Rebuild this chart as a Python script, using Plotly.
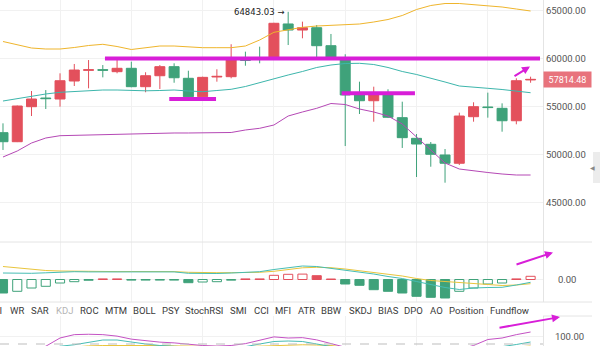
import plotly.graph_objects as go

# ---------------- data ----------------
opens = [52280, 51340, 54980, 55880, 55780, 57650, 58760, 58830, 58620, 58970,
         57060, 58200, 59140, 57930, 56020, 58070, 58100, 59870, 59960, 59910,
         63580, 62950, 63190, 61320, 59830, 56200, 55600, 56200, 53840, 51690,
         51070, 49960, 49100, 53940, 54950, 54810, 53520, 57760]
highs = [53250, 55100, 56610, 56710, 58450, 59420, 59830, 59310, 60110, 59660,
         58560, 59310, 59490, 58720, 58100, 58870, 61470, 60700, 61220, 63700,
         64843.03, 63820, 63470, 62540, 60430, 57580, 57060, 56790, 55500, 52140,
         51310, 50580, 54360, 55440, 56440, 55330, 57930, 58100]
lows = [50480, 51300, 54010, 54740, 54980, 57130, 56890, 58030, 58450, 57000,
        56480, 56820, 57470, 56000, 56000, 57580, 57930, 59240, 59490, 59850,
        61390, 62090, 59910, 60000, 50890, 54220, 53420, 53800, 50690, 47670,
        48740, 47080, 48920, 53420, 53840, 52380, 53150, 57470]
closes = [51340, 55050, 55780, 55820, 57680, 58790, 58820, 58770, 58970, 57060,
          58200, 59140, 57990, 56020, 58030, 58130, 59910, 59810, 59920, 63650,
          62950, 63190, 61320, 60070, 56200, 55600, 56200, 53880, 51760, 51100,
          50030, 49100, 54010, 54980, 54890, 53520, 57680, 57814.48]

boll_upper = [61757, 61393, 61081, 60977, 60977, 61133, 61341, 61466, 61237, 60925,
              61133, 61289, 61289, 61185, 61112, 61112, 61112, 61289, 61913, 62713,
              63004, 63233, 63368, 63420, 63472, 63576, 63784, 64044, 64459, 65083,
              65499, 65707, 65707, 65603, 65499, 65343, 65135, 64927]
boll_mid = [55572, 55832, 56092, 56300, 56476, 56580, 56663, 56715, 56715, 56663,
            56632, 56663, 56715, 56611, 56538, 56663, 56788, 57079, 57495, 57859,
            58275, 58639, 59055, 59314, 59470, 59491, 59366, 59055, 58639, 58327,
            57963, 57547, 57131, 56975, 56892, 56767, 56611, 56434]
boll_lower = [49751, 50374, 51206, 51726, 51965, 52006, 52038, 52038, 52142, 52194,
              52214, 52246, 52246, 52246, 52246, 52277, 52298, 52558, 52734, 53077,
              54013, 54429, 54813, 55312, 55208, 54740, 54429, 54013, 53181, 51830,
              50478, 49127, 48503, 48295, 48139, 47983, 47879, 47879]

macd_hist = [-1350, -1180, -850, -680, -350, -220, -80, 60, 60, -60,
             -60, -60, -60, -320, -250, -220, -70, 60, 60, 420,
             520, 540, 380, 50, -450, -580, -1020, -1180, -1350, -1680,
             -1780, -1850, -1180, -850, -450, -350, 60, 320]
macd_dea = [1300, 1150, 1020, 900, 850, 820, 800, 790, 790, 800,
            810, 800, 790, 720, 680, 680, 680, 680, 720, 820,
            1000, 1170, 1220, 1180, 1050, 880, 720, 550, 350, 100,
            -100, -200, -300, -450, -550, -600, -550, -420]
macd_dif = [650, 620, 620, 670, 750, 780, 760, 770, 780, 770,
            760, 770, 760, 620, 600, 600, 650, 720, 780, 1000,
            1200, 1350, 1300, 1120, 950, 780, 550, 300, 100, -200,
            -500, -800, -1000, -850, -800, -780, -550, -280]

osc_k = [60, 62, 66, 74, 96, 105, 106, 105, 101, 93,
         88, 85, 83, 79, 76, 74.5, 76, 81, 91, 99,
         96, 97, 91, 80, 70, 55, 50, 42, 35, 30,
         28, 30, 66, 76, 92, 96, 105, 112]
osc_d = [55, 56, 60, 66, 74, 78, 85, 90.7, 90.7, 85,
         80, 76, 73, 71, 70, 70, 71, 73, 80, 86.7,
         88, 86.7, 80, 72, 65, 58, 52, 46, 40, 36,
         33, 32, 45, 55, 63, 73, 78.7, 85.3]
osc_j = [55, 56, 58, 62, 69, 72, 75, 76, 76.5, 76.5,
         76, 76, 75, 74, 73, 73, 73, 73, 74.7, 76,
         77.3, 78, 77.3, 76, 72, 68, 62, 56, 50, 44,
         40, 38, 42, 50, 58, 64, 72, 74.7]

price_ticks = [45000, 50000, 55000, 60000, 65000]
last_price = 57814.48
high_mark = 64843.03
resistance = 60000
support_left = 55780
support_right = 56372

tab_labels = ["RSI", "WR", "SAR", "KDJ", "ROC", "MTM", "BOLL", "PSY", "StochRSI",
              "SMI", "CCI", "MFI", "ATR", "BBW", "SKDJ", "BIAS", "DPO", "AO",
              "Position", "Fundflow"]

# ---------------- styling ----------------
W, H = 600, 346
RED = "#e3505c"
GREEN = "#3fa27a"
GOLD = "#efb52c"
TEAL = "#3db6ac"
PURPLE = "#b548b5"
MAGENTA = "#d81ed8"
GRID = "#f1f1f1"
BORDER = "#e4e4e4"
TXT = "#555555"
FONT = "Roboto"

plot_right = 543          # px where the price area ends
main_bottom = 242         # px bottom of the price pane
macd_bottom = 302         # px bottom of the MACD pane
osc_top = 316             # px top of the oscillator pane


def px_x(v):
    return v / W


def px_y(v):
    return 1 - v / H


idx = list(range(len(opens)))
x_range = [-0.21, 37.87]
grid_ticks = [4, 9, 14, 19, 24, 29, 34]

fig = go.Figure()

# price pane
fig.add_trace(go.Candlestick(
    x=idx, open=opens, high=highs, low=lows, close=closes,
    increasing=dict(line=dict(color=RED, width=1), fillcolor=RED),
    decreasing=dict(line=dict(color=GREEN, width=1), fillcolor=GREEN),
    whiskerwidth=0, xaxis="x", yaxis="y", hoverinfo="skip"))
for series, col in ((boll_upper, GOLD), (boll_mid, TEAL), (boll_lower, PURPLE)):
    fig.add_trace(go.Scatter(x=idx, y=series, mode="lines",
                             line=dict(color=col, width=1), xaxis="x", yaxis="y",
                             hoverinfo="skip"))

# MACD pane
bar_fill, bar_line = [], []
for i, v in enumerate(macd_hist):
    col = RED if v >= 0 else GREEN
    hollow = i > 0 and v >= macd_hist[i - 1]
    bar_fill.append("white" if hollow else col)
    bar_line.append(col)
fig.add_trace(go.Bar(x=idx, y=macd_hist, width=0.64,
                     marker=dict(color=bar_fill, line=dict(color=bar_line, width=1)),
                     xaxis="x2", yaxis="y2", hoverinfo="skip"))
fig.add_trace(go.Scatter(x=idx, y=macd_dea, mode="lines",
                         line=dict(color="#e9c53c", width=1), xaxis="x2", yaxis="y2"))
fig.add_trace(go.Scatter(x=idx, y=macd_dif, mode="lines",
                         line=dict(color="#46bdb4", width=1), xaxis="x2", yaxis="y2"))

# oscillator pane
for series, col in ((osc_j, "#e9c53c"), (osc_d, "#46bdb4"), (osc_k, "#c452c4")):
    fig.add_trace(go.Scatter(x=idx, y=series, mode="lines",
                             line=dict(color=col, width=1), xaxis="x3", yaxis="y3"))

xcommon = dict(range=x_range, domain=[0, px_x(plot_right)], showticklabels=False,
               tickvals=grid_ticks, showgrid=True, gridcolor=GRID, gridwidth=1,
               zeroline=False, showline=False, ticks="", fixedrange=True)
ycommon = dict(side="right", showgrid=True, gridcolor=GRID, zeroline=False,
               showline=True, linecolor=BORDER, linewidth=1, ticks="",
               tickfont=dict(family=FONT, size=9.5, color=TXT), fixedrange=True)

main_lo = 66070.7 - 103.95 * main_bottom
fig.update_layout(
    width=W, height=H, margin=dict(l=0, r=0, t=0, b=0),
    paper_bgcolor="white", plot_bgcolor="white", showlegend=False,
    font=dict(family=FONT, color=TXT),
    boxgap=0.0, boxgroupgap=0.3,
    xaxis=dict(**xcommon, rangeslider=dict(visible=False), anchor="y"),
    xaxis2=dict(**xcommon, anchor="y2", matches="x"),
    xaxis3=dict(**xcommon, anchor="y3", matches="x"),
    yaxis=dict(**ycommon, domain=[px_y(main_bottom), 1], range=[main_lo, 66070.7],
               tickvals=price_ticks, ticktext=[f"{v:.2f}" for v in price_ticks],
               anchor="x", ticklabelstandoff=0),
    yaxis2=dict(**ycommon, domain=[px_y(macd_bottom), px_y(main_bottom)],
                range=[-2250, 3750], tickvals=[0], ticktext=["0.00"],
                anchor="x2", ticklabelstandoff=12),
    yaxis3=dict(**ycommon, domain=[0, px_y(osc_top)], range=[74.7, 154.7],
                tickvals=[100], ticktext=["100.00"], anchor="x3",
                ticklabelstandoff=9),
)

shapes = []
# pane separators
for yy in (main_bottom, macd_bottom):
    shapes.append(dict(type="line", xref="paper", yref="paper", x0=0, x1=px_x(592),
                       y0=px_y(yy), y1=px_y(yy), line=dict(color=BORDER, width=1)))
shapes.append(dict(type="line", xref="paper", yref="paper", x0=px_x(plot_right), x1=px_x(592),
                   y0=px_y(osc_top), y1=px_y(osc_top), line=dict(color=BORDER, width=1)))
# dashed reference in oscillator pane
shapes.append(dict(type="line", xref="paper", yref="y3", x0=0, x1=px_x(plot_right),
                   y0=80, y1=80, line=dict(color="#bdbdbd", width=1, dash="dash")))
# drawn support / resistance levels
shapes.append(dict(type="line", xref="x", yref="y", x0=7.15, x1=37.66,
                   y0=resistance, y1=resistance, line=dict(color=MAGENTA, width=4)))
shapes.append(dict(type="line", xref="x", yref="y", x0=11.66, x1=14.94,
                   y0=support_left, y1=support_left, line=dict(color=MAGENTA, width=4)))
shapes.append(dict(type="line", xref="x", yref="y", x0=23.75, x1=28.89,
                   y0=support_right, y1=support_right, line=dict(color=MAGENTA, width=4)))
# side collapse tab
shapes.append(dict(type="rect", xref="paper", yref="paper", x0=px_x(593), x1=1,
                   y0=px_y(183), y1=px_y(152), fillcolor="#ececec", line=dict(width=0)))
fig.update_layout(shapes=shapes)

ann = []
# last price tag
ann.append(dict(xref="paper", yref="y", x=px_x(plot_right), y=last_price, xanchor="left",
                yanchor="middle", text=f"{last_price:.2f}", showarrow=False,
                bgcolor="#e8737c", width=43, height=11, borderpad=2,
                font=dict(family=FONT, size=9, color="white")))
# highest price mark
ann.append(dict(xref="x", yref="y", x=20, y=high_mark, xanchor="right", yanchor="middle",
                xshift=-2, text=f"{high_mark:.2f} →", showarrow=False,
                font=dict(family="DejaVu Sans", size=8.5, color="#222")))
# trend arrows
for (x0, y0, x1, y1) in ((513, 77, 530, 66.5), (515, 265, 553, 252.5), (498, 328, 560, 317)):
    ann.append(dict(xref="paper", yref="paper", x=px_x(x1), y=px_y(y1),
                    axref="pixel", ayref="pixel", ax=x0 - x1, ay=y0 - y1,
                    showarrow=True, arrowhead=2, arrowsize=0.8, arrowwidth=2,
                    arrowcolor=MAGENTA, text=""))
# indicator tabs
tab_x = [4, 17.3, 40, 64.3, 89, 115.7, 144.3, 170.7, 204, 238.3, 261, 282.7,
         306, 331.7, 360, 388.3, 414, 436.7, 466.7, 509]
for lab, xx in zip(tab_labels, tab_x):
    ann.append(dict(xref="paper", yref="paper", x=px_x(xx), y=px_y(310),
                    xanchor="right" if lab == "RSI" else "center", yanchor="middle",
                    text=lab, showarrow=False,
                    font=dict(family=FONT, size=9.5,
                              color="#b5b5b5" if lab == "KDJ" else "#3a3a3a")))
ann.append(dict(xref="paper", yref="paper", x=px_x(597), y=px_y(167), text="◀",
                showarrow=False, font=dict(size=6, color="#888")))
fig.update_layout(annotations=ann)

fig.write_html("out.html")
